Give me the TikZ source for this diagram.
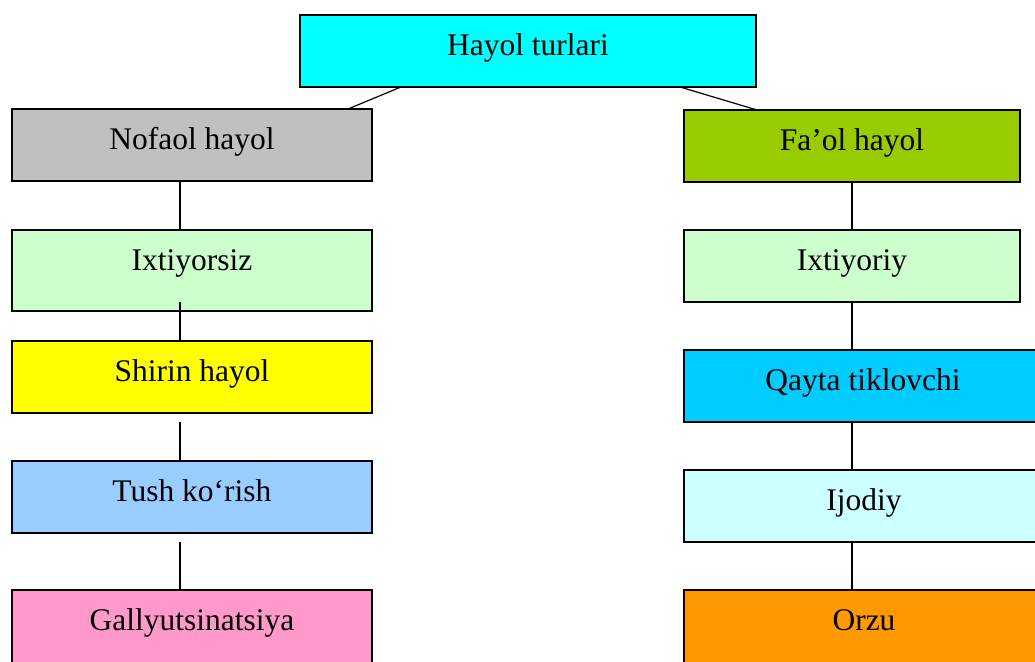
\documentclass[tikz,border=0pt]{standalone}
\usepackage{fontspec}
\setmainfont{Liberation Serif}
\usepackage{tikz}
\usetikzlibrary{positioning}
\definecolor{topcyan}{RGB}{0,255,255}
\definecolor{nofaolgray}{RGB}{192,192,192}
\definecolor{faolgreen}{RGB}{153,204,0}
\definecolor{palegreen}{RGB}{204,255,204}
\definecolor{shirinyellow}{RGB}{255,255,0}
\definecolor{tushblue}{RGB}{153,204,255}
\definecolor{gallypink}{RGB}{255,153,204}
\definecolor{qaytablue}{RGB}{0,204,255}
\definecolor{ijodiycyan}{RGB}{204,255,255}
\definecolor{orzuorange}{RGB}{255,153,0}
\tikzstyle{box} = [rectangle, draw, line width=0.65pt, inner sep=0pt, outer sep=0pt,
                minimum width=180pt, minimum height=36pt, text height=20.5pt, text depth=15.5pt,
                font=\fontsize{15.75}{19}\selectfont]
\tikzstyle{line} = [draw, line width=0.6pt]

\begin{document}
\begin{tikzpicture}
                \useasboundingbox (0,0) rectangle (517.5pt,-331pt);
                \node[box, fill=topcyan, minimum width=228pt](turlari) at (264pt,-25.5pt){Hayol turlari};
                \node[box, fill=nofaolgray, anchor=north west](nofaol) at (6pt,-54.5pt){Nofaol hayol};
                \node[box, fill=palegreen, minimum height=40.5pt, text depth=20pt, below=24.5pt of nofaol](ixtiyorsiz){Ixtiyorsiz};
                \node[box, fill=shirinyellow, below=15pt of ixtiyorsiz](shirin){Shirin hayol};
                \node[box, fill=tushblue, below=24pt of shirin](tush){Tush ko‘rish};
                \node[box, fill=gallypink, minimum height=38pt, text depth=17.5pt, below=28.5pt of tush](gally){Gallyutsinatsiya};
                \node[box, fill=faolgreen, minimum width=168pt, anchor=north west](faol) at (342pt,-55pt){Fa’ol hayol};
                \node[box, fill=palegreen, minimum width=168pt, below=24pt of faol](ixtiyoriy){Ixtiyoriy};
                \node[box, fill=qaytablue, minimum width=179pt, below=24pt of ixtiyoriy.south west, anchor=north west](qayta){Qayta tiklovchi};
                \node[box, fill=ijodiycyan, below=24pt of qayta.south west, anchor=north west](ijodiy){Ijodiy};
                \node[box, fill=orzuorange, minimum height=38pt, text depth=17.5pt, below=24pt of ijodiy.south west, anchor=north west](orzu){Orzu};
                \path[line] ([xshift=-63.5pt]turlari.south) -- ([xshift=78pt]nofaol.north);
                \path[line] ([xshift=76pt]turlari.south) -- ([xshift=-47.5pt]faol.north);
                \path[line] ([xshift=-6pt]nofaol.south) -- ([xshift=-6pt]ixtiyorsiz.north);
                \path[line] ([xshift=-6pt,yshift=4.5pt]ixtiyorsiz.south) -- ([xshift=-6pt]shirin.north);
                \path[line] ([xshift=-6pt,yshift=-4.5pt]shirin.south) -- ([xshift=-6pt]tush.north);
                \path[line] ([xshift=-6pt,yshift=-4.5pt]tush.south) -- ([xshift=-6pt]gally.north);
                \path[line] (faol) -- (ixtiyoriy);
                \path[line] (ixtiyoriy.south) -- (ixtiyoriy.south |- qayta.north);
                \path[line] (qayta.south -| ixtiyoriy.south) -- (ijodiy.north -| ixtiyoriy.south);
                \path[line] (ijodiy.south -| ixtiyoriy.south) -- (orzu.north -| ixtiyoriy.south);
            \end{tikzpicture}
\end{document}
